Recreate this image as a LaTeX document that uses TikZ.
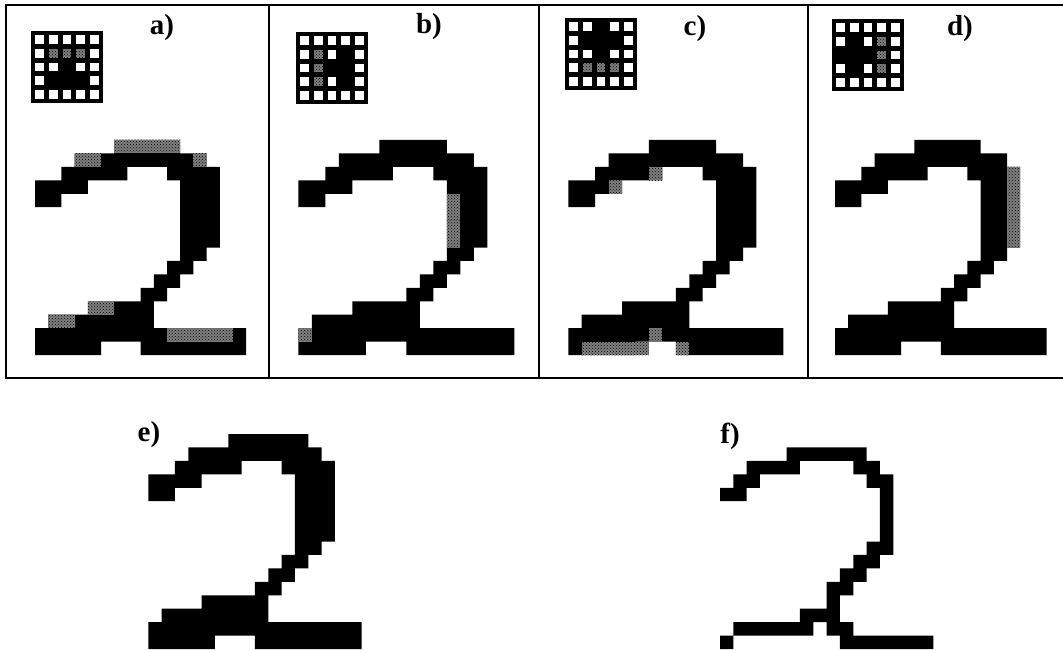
\documentclass[tikz,border=0pt]{standalone}
\usepackage{fontspec}
\setmainfont{Liberation Serif}
\usetikzlibrary{patterns}
\tikzset{
  graypx/.style={fill=black!50, postaction={pattern=crosshatch dots, pattern color=black}},
  lbl/.style={font=\fontsize{29}{29}\selectfont\bfseries, inner sep=0pt, anchor=center},
  frameline/.style={line width=2.5pt, black},
}
% original digit: row/firstcol/lastcol
\def\digitD{0/6/10,1/3/12,2/2/6,2/10/13,3/0/3,3/11/13,4/0/1,4/11/13,5/11/13,6/11/13,7/11/13,8/11/12,9/10/11,10/9/10,11/8/9,12/4/8,13/1/8,14/0/15,15/0/4,15/8/15}
\def\digitE{0/6/11,1/3/12,2/2/6,2/10/13,3/0/3,3/11/13,4/0/1,4/11/13,5/11/13,6/11/13,7/11/13,8/11/12,9/10/11,10/9/10,11/8/9,12/4/8,13/1/8,14/0/15,15/0/4,15/8/15}
\def\digitF{1/5/10,2/2/5,2/10/11,3/1/2,3/11/12,4/0/1,4/12/12,5/12/12,6/12/12,7/12/12,8/11/12,9/10/11,10/9/10,11/8/9,12/8/8,13/6/8,14/1/6,14/8/9,15/0/0,15/9/15}
\def\grayA{0/6/10,1/3/4,1/12/12,12/4/5,13/1/2,14/10/14}
\def\grayB{4/11/11,5/11/11,6/11/11,7/11/11,14/0/0}
\def\grayC{2/6/6,3/3/3,14/6/6,15/1/5,15/8/8}
\def\grayD{2/13/13,3/13/13,4/13/13,5/13/13,6/13/13,7/13/13}
% templates: black cells row/col, gray cells row/col
\def\tAblack{2/2,3/1,3/2,3/3}
\def\tAgray{1/1,1/2,1/3}
\def\tBblack{2/2,1/3,2/3,3/3}
\def\tBgray{1/1,2/1,3/1}
\def\tCblack{0/2,1/1,1/2,1/3,2/2}
\def\tCgray{3/1,3/2,3/3}
\def\tDblack{1/1,2/0,2/1,2/2,3/1}
\def\tDgray{1/3,2/3,3/3}
% #1 x0, #2 y0, #3 unit x, #4 digit list
\newcommand\pixdigit[4]{%
  \begin{scope}[xshift=#1pt, yshift=-#2pt, x=#3pt, y=-13.44pt]
    \fill[black] \foreach \r/\a/\b in #4 {(\a,\r) rectangle (\b+1,\r+1)};
  \end{scope}}
\newcommand\pixgray[4]{%
  \begin{scope}[xshift=#1pt, yshift=-#2pt, x=#3pt, y=-13.44pt]
    \foreach \r/\a/\b in #4 {\fill[graypx] (\a,\r) rectangle (\b+1,\r+1);}
  \end{scope}}
% #1 x, #2 y, #3 black list, #4 gray list
\newcommand\tmplgrid[4]{%
  \begin{scope}[xshift=#1pt, yshift=-#2pt, x=13.6pt, y=-13.6pt]
    \fill[black] (-0.12,-0.12) rectangle (5.12,5.12);
    \foreach \i in {0,...,4} {\foreach \j in {0,...,4} {\fill[white] (\j+0.17,\i+0.17) rectangle (\j+0.83,\i+0.83);}}
    \foreach \i/\j in #3 {\fill[black] (\j,\i) rectangle (\j+1,\i+1);}
    \foreach \i/\j in #4 {\fill[graypx] (\j+0.17,\i+0.17) rectangle (\j+0.83,\i+0.83);}
  \end{scope}}
\begin{document}
\begin{tikzpicture}[x=1pt,y=-1pt]
\useasboundingbox (0,0) rectangle (1063,650);
\fill[white] (0,0) rectangle (1063,650);
% frame
\draw[frameline] (5,5) -- (1063,5);
\draw[frameline] (5,378) -- (1063,378);
\foreach \vx in {6,269,539,808} {\draw[frameline] (\vx,5) -- (\vx,378);}
% digits
\pixdigit{35}{140}{13.2}{\digitD}
\pixgray{35}{140}{13.2}{\grayA}
\pixdigit{298.3}{140}{13.5}{\digitD}
\pixgray{298.3}{140}{13.5}{\grayB}
\pixdigit{568.3}{140}{13.44}{\digitD}
\pixgray{568.3}{140}{13.44}{\grayC}
\pixdigit{835}{140}{13.23}{\digitD}
\pixgray{835}{140}{13.23}{\grayD}
\pixdigit{148.3}{434}{13.33}{\digitE}
\pixdigit{720}{434}{13.33}{\digitF}
% templates
\tmplgrid{33}{33}{\tAblack}{\tAgray}
\tmplgrid{298}{34}{\tBblack}{\tBgray}
\tmplgrid{567}{20}{\tCblack}{\tCgray}
\tmplgrid{834}{21}{\tDblack}{\tDgray}
% labels
\node[lbl] (la) at (162,28) {a)};
\node[lbl] (lb) at (429,27) {b)};
\node[lbl] (lc) at (695,29) {c)};
\node[lbl] (ld) at (960,29) {d)};
\node[lbl] (le) at (149,435) {e)};
\node[lbl] (lf) at (730,436) {f)};
\end{tikzpicture}
\end{document}
